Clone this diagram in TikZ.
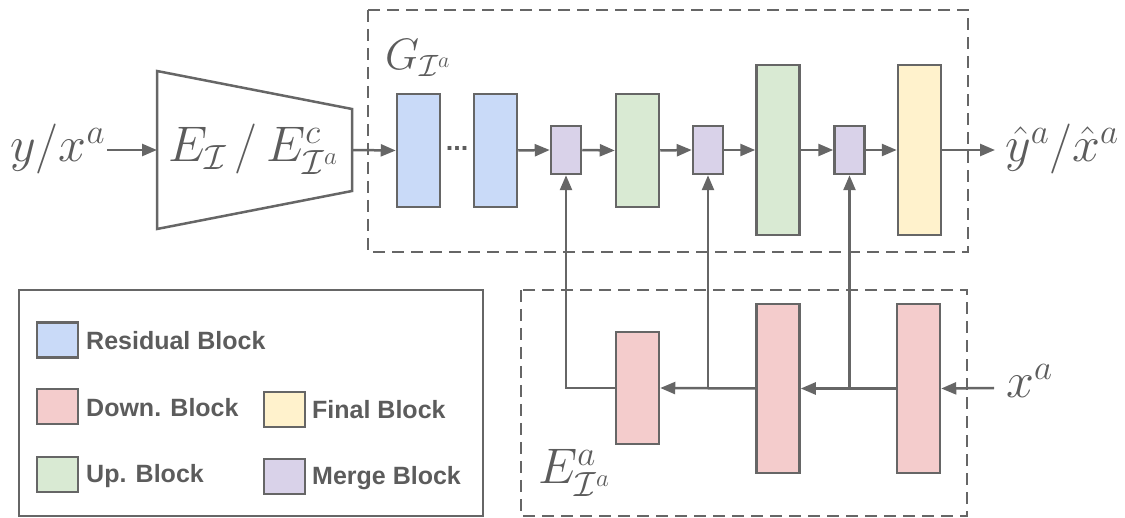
\RequirePackage{fix-cm}
\documentclass[tikz,border=0pt]{standalone}
\usepackage{fontspec}
\newfontfamily\legfont{Liberation Sans}[BoldFont={Liberation Sans Bold}]
\usetikzlibrary{arrows.meta}
\definecolor{lc}{HTML}{666666}
\definecolor{tc}{HTML}{5C5C5C}
\definecolor{cblue}{HTML}{C9DAF8}
\definecolor{cred}{HTML}{F4CCCC}
\definecolor{cgreen}{HTML}{D9EAD3}
\definecolor{cyellow}{HTML}{FFF2CC}
\definecolor{cpurple}{HTML}{D9D2E9}
\tikzset{
  blk/.style={draw=lc, line width=2.5pt, inner sep=0pt, minimum width=43pt},
  mrg/.style={blk, fill=cpurple, minimum width=30pt, minimum height=48pt},
  arr/.style={draw=lc, line width=2.5pt, -{Triangle[length=15pt,width=12pt]}},
  ln/.style={draw=lc, line width=2.5pt},
  dbox/.style={draw=lc, line width=2.5pt, dash pattern=on 12pt off 7pt},
  mlbl/.style={text=tc, inner sep=0pt, font=\fontsize{50}{56}\selectfont},
  glbl/.style={text=tc, inner sep=0pt, font=\fontsize{44}{50}\selectfont},
  sw/.style={draw=lc, line width=2.5pt, minimum width=41pt, minimum height=35pt, inner sep=0pt},
  legtxt/.style={text=tc, inner sep=0pt, anchor=west, font=\legfont\bfseries\fontsize{25}{30}\selectfont},
}
\begin{document}
\begin{tikzpicture}[x=1pt,y=-1pt]
\useasboundingbox (0,0) rectangle (1125,518);
% dashed boxes
\draw[dbox] (368,10) rectangle (968,252);
\draw[dbox] (521,290) rectangle (967,516);
% legend box
\draw[draw=lc, line width=2pt] (18.6,290) rectangle (483,516);
% encoder trapezoid
\draw[ln, line join=miter] (157,71) -- (352,109) -- (352,191) -- (157,229) -- cycle;
\coordinate (encL) at (157,150);
\coordinate (encR) at (352,150);
\node[mlbl, anchor=base west] (enc) at (168,162) {$E_{\mathcal{I}}\,/\,E^{c}_{\mathcal{I}^a}$};
% labels
\node[mlbl, anchor=base west] (in) at (10,162) {$y/x^a$};
\node[mlbl, anchor=base west] (out) at (1005,162) {$\hat{y}^a/\hat{x}^a$};
\node[mlbl, anchor=base west] (xa) at (1006,398) {$x^a$};
\node[glbl, anchor=base west] (G) at (385,70) {$G_{\mathcal{I}^a}$};
\node[mlbl, anchor=base west] (Ea) at (538,484) {$E^{a}_{\mathcal{I}^a}$};
% generator blocks
\node[blk, fill=cblue, minimum height=113pt] (b1) at (418.5,150.5) {};
\node[blk, fill=cblue, minimum height=113pt] (b2) at (495.5,150.5) {};
\node[text=tc, inner sep=0pt, anchor=base, font=\legfont\bfseries\fontsize{27}{27}\selectfont] (dots) at (457,151) {...};
\node[mrg] (m1) at (566,150) {};
\node[blk, fill=cgreen, minimum height=113pt] (g1) at (637.5,150.5) {};
\node[mrg] (m2) at (708,150) {};
\node[blk, fill=cgreen, minimum height=170pt] (g2) at (778,150) {};
\node[mrg] (m3) at (849.5,150) {};
\node[blk, fill=cyellow, minimum height=170pt] (y1) at (919.5,150) {};
% appearance encoder blocks
\node[blk, fill=cred, minimum height=112pt] (d1) at (637.5,388) {};
\node[blk, fill=cred, minimum height=169pt] (d2) at (778,388.5) {};
\node[blk, fill=cred, minimum height=169pt] (d3) at (918.5,388.5) {};
% main flow arrows
\coordinate (inR) at (107,150);
\draw[arr] (inR) -- (encL);
\draw[arr] (encR) -- (b1.west);
\draw[arr] (b2.east) -- (m1.west);
\draw[arr] (m1.east) -- (g1.west);
\draw[arr] (g1.east) -- (m2.west);
\draw[arr] (m2.east) -- (g2.west);
\draw[arr] (g2.east) -- (m3.west);
\draw[arr] (m3.east) -- (y1.west);
\coordinate (outL) at (995,150);
\draw[arr] (y1.east) -- (outL);
% lower flow
\coordinate (xin) at (994,388);
\coordinate (j3) at (849.5,388);
\coordinate (j2) at (708,388);
\coordinate (j1) at (566,388);
\draw[arr] (xin) -- (d3.east);
\draw[arr] (d3.west) -- (d2.east);
\draw[arr] (d2.west) -- (d1.east);
\draw[arr] (j3) -- (m3.south);
\draw[arr] (j2) -- (m2.south);
\draw[arr, line join=miter] (d1.west) -- (j1) -- (m1.south);
% legend
\node[sw, fill=cblue] (lsr) at (57.5,340) {};
\node[legtxt] (ltr) at (86,341) {Residual Block};
\node[sw, fill=cred] (lsd) at (57.5,406.5) {};
\node[legtxt] (ltd) at (86,408) {Down. Block};
\node[sw, fill=cgreen] (lsu) at (57.5,474.5) {};
\node[legtxt] (ltu) at (86,476) {Up. Block};
\node[sw, fill=cyellow] (lsf) at (284.5,409.5) {};
\node[legtxt] (ltf) at (312,410) {Final Block};
\node[sw, fill=cpurple] (lsm) at (284.5,476.5) {};
\node[legtxt] (ltm) at (312,478) {Merge Block};
\end{tikzpicture}
\end{document}
